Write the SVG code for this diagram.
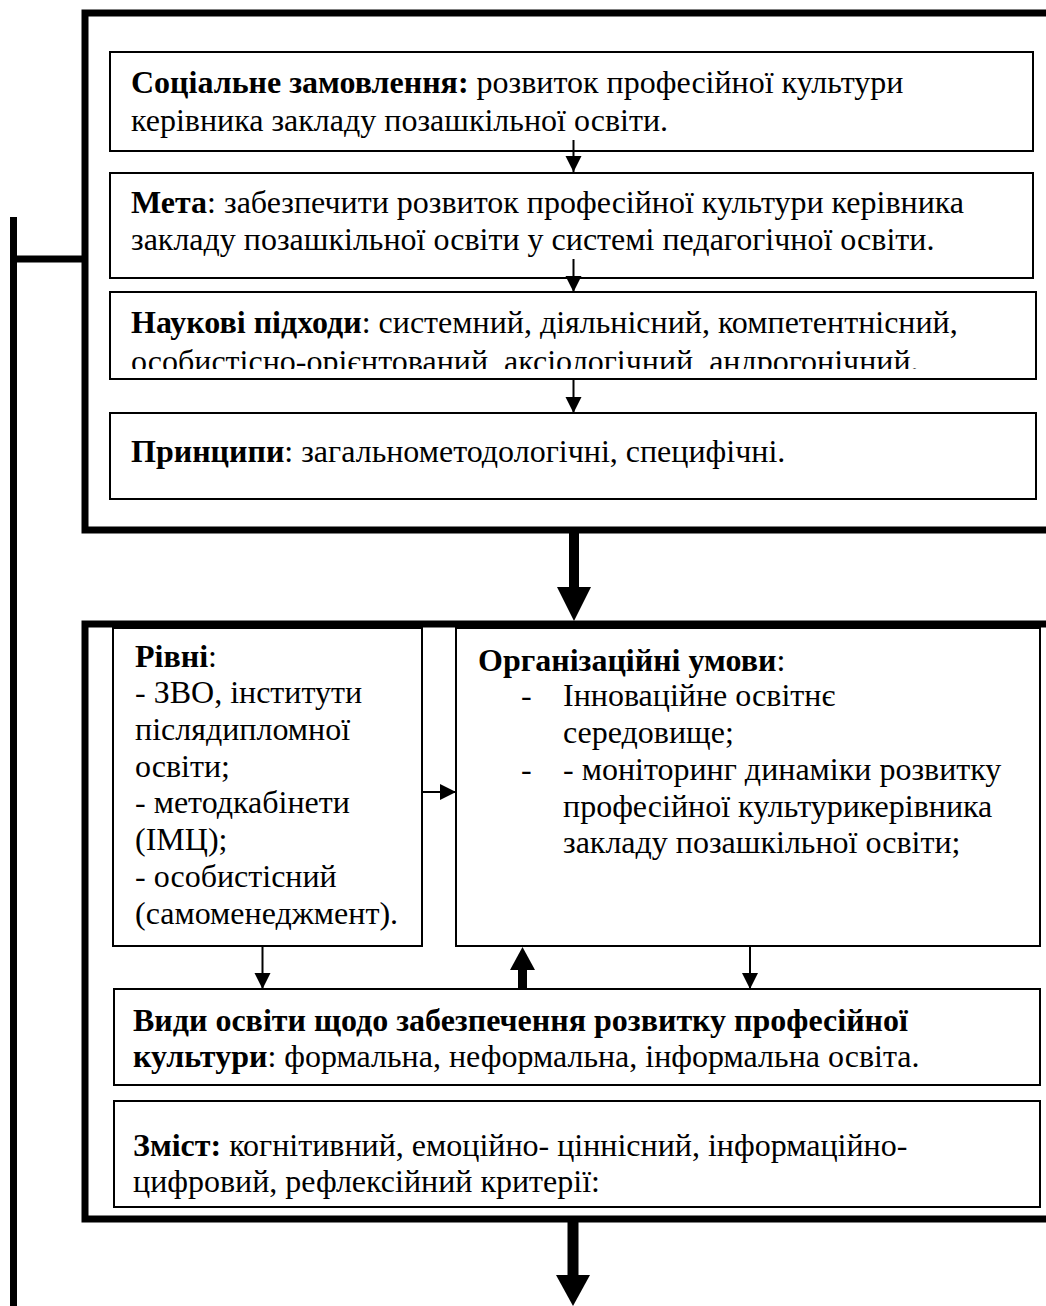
<svg xmlns="http://www.w3.org/2000/svg" width="1046" height="1306" viewBox="0 0 1046 1306">
<style>
text{font-family:"Liberation Serif","Times New Roman",serif;font-size:32px;fill:#000}
.b{font-weight:bold}
.box{fill:#fff;stroke:#000;stroke-width:2}
.thick{fill:none;stroke:#000;stroke-width:7}
.ln{stroke:#000;stroke-width:2;fill:none}
.sh{stroke:#000;fill:none}
</style>
<defs>
<marker id="ah" markerUnits="userSpaceOnUse" markerWidth="16" markerHeight="18" refX="16" refY="8" orient="auto">
<path d="M0,0 L16,8 L0,16 Z" fill="#000"/>
</marker>
<clipPath id="clip3"><rect x="110" y="292" width="926" height="77"/></clipPath>
</defs>
<rect width="1046" height="1306" fill="#fff"/>

<g id="outer1">
<path class="thick" d="M1050,13 H85 V530 H1050"/>
</g>
<g id="outer2">
<path class="thick" d="M1050,624 H85 V1219 H1050"/>
</g>

<g id="box1">
<rect class="box" x="110" y="52" width="923" height="99"/>
<text x="131" y="93"><tspan class="b">Соціальне замовлення:</tspan> розвиток професійної культури</text>
<text x="131" y="131">керівника закладу позашкільної освіти.</text>
</g>
<g id="box2">
<rect class="box" x="110" y="173" width="923" height="105"/>
<text x="131" y="213"><tspan class="b">Мета</tspan>: забезпечити розвиток професійної культури керівника</text>
<text x="131" y="250">закладу позашкільної освіти у системі педагогічної освіти.</text>
</g>
<g id="box3">
<rect class="box" x="110" y="292" width="926" height="87"/>
<text x="131" y="333"><tspan class="b">Наукові підходи</tspan>: системний, діяльнісний, компетентнісний,</text>
<text x="131" y="372" clip-path="url(#clip3)">особистісно-орієнтований, аксіологічний, андрогонічний.</text>
</g>
<g id="box4">
<rect class="box" x="110" y="413" width="926" height="86"/>
<text x="131" y="462"><tspan class="b">Принципи</tspan>: загальнометодологічні, специфічні.</text>
</g>

<g id="rivni">
<rect class="box" x="113" y="628" width="309" height="318"/>
<text x="135" y="667"><tspan class="b">Рівні</tspan>:</text>
<text x="135" y="703">- ЗВО, інститути</text>
<text x="135" y="740">післядипломної</text>
<text x="135" y="777">освіти;</text>
<text x="135" y="813">- методкабінети</text>
<text x="135" y="850">(ІМЦ);</text>
<text x="135" y="887">- особистісний</text>
<text x="135" y="924">(самоменеджмент).</text>
</g>
<g id="org">
<rect class="box" x="456" y="628" width="584" height="318"/>
<text x="478" y="671"><tspan class="b">Організаційні умови</tspan>:</text>
<text x="521" y="706">-</text>
<text x="563" y="706">Інноваційне освітнє</text>
<text x="563" y="743">середовище;</text>
<text x="521" y="780">-</text>
<text x="563" y="780">- моніторинг динаміки розвитку</text>
<text x="563" y="817">професійної культурикерівника</text>
<text x="563" y="853">закладу позашкільної освіти;</text>
</g>
<g id="vydy">
<rect class="box" x="114" y="989" width="926" height="96"/>
<text x="133" y="1031" class="b">Види освіти щодо забезпечення розвитку професійної</text>
<text x="133" y="1067"><tspan class="b">культури</tspan>: формальна, неформальна, інформальна освіта.</text>
</g>
<g id="zmist">
<rect class="box" x="114" y="1101" width="926" height="106"/>
<text x="133" y="1156"><tspan class="b">Зміст:</tspan> когнітивний, емоційно- ціннісний, інформаційно-</text>
<text x="133" y="1192">цифровий, рефлексійний критерії:</text>
</g>

<g id="connectors">
<path class="thick" d="M13.5,217 V1306 M13.5,259 H85"/>
<line class="ln" x1="573.5" y1="140" x2="573.5" y2="172" marker-end="url(#ah)"/>
<line class="ln" x1="573.5" y1="259" x2="573.5" y2="292" marker-end="url(#ah)"/>
<line class="ln" x1="573.5" y1="379" x2="573.5" y2="413" marker-end="url(#ah)"/>
<line class="ln" x1="422" y1="792" x2="456" y2="792" marker-end="url(#ah)"/>
<line class="ln" x1="262.5" y1="946" x2="262.5" y2="989" marker-end="url(#ah)"/>
<line class="ln" x1="750" y1="946" x2="750" y2="989" marker-end="url(#ah)"/>
<path class="sh" stroke-width="9" d="M522.5,989 V968"/>
<path d="M510,970 L535,970 L522.5,947 Z" fill="#000"/>
<path class="sh" stroke-width="10" d="M574,533 V590"/>
<path d="M557,587 L591,587 L574,621 Z" fill="#000"/>
<path class="sh" stroke-width="11" d="M573,1222 V1278"/>
<path d="M556,1275 L590,1275 L573,1306 Z" fill="#000"/>
</g>
</svg>
